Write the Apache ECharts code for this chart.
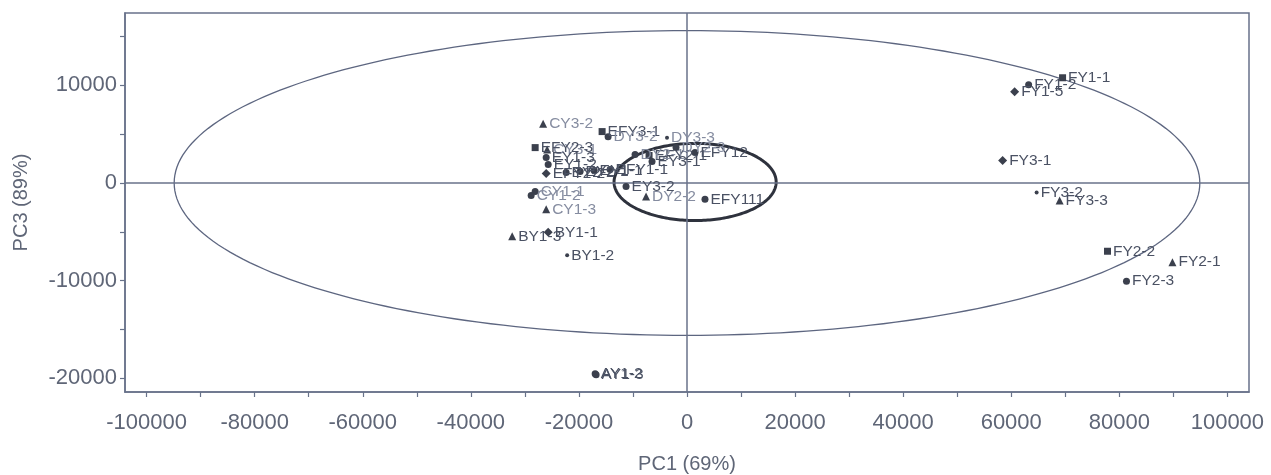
<!DOCTYPE html>
<html>
<head>
<meta charset="utf-8">
<script src="https://cdn.jsdelivr.net/npm/echarts@6/dist/echarts.min.js"></script>
<style>
html,body{margin:0;padding:0;background:#fff;}
#chart{width:1271px;height:475px;}
</style>
</head>
<body>
<div id="chart"></div>
<script>
// ---------- data ----------
const xTickValues = [-100000,-90000,-80000,-70000,-60000,-50000,-40000,-30000,-20000,-10000,0,10000,20000,30000,40000,50000,60000,70000,80000,90000,100000];
const xLabelValues = [-100000,-80000,-60000,-40000,-20000,0,20000,40000,60000,80000,100000];
const yTickValues = [-20000,-15000,-10000,-5000,0,5000,10000,15000];
const yLabelValues = [-20000,-10000,0,10000];

// triangles
const triNames = ['CY3-2','CY3-1','CY1-3','BY1-3','DY2-2','FY2-1','FY3-3'];
const triPC1   = [-26620,-25880,-26060,-32350,-7580,89830,68950];
const triPC3   = [6070,3420,-2700,-5460,-1380,-8110,-1790];

// squares
const sqNames = ['EFY3-1','EFY2-3','EFY2-1','FY1-1','FY2-2'];
const sqPC1   = [-15710,-28100,-7020,69500,77820];
const sqPC3   = [5260,3620,2810,10770,-6990];

// diamonds
const diaNames = ['FY1-5','FY3-1','EFY2-2','BY1-1'];
const diaPC1   = [60630,58410,-26060,-25690];
const diaPC3   = [9340,2300,970,-5050];

// circles
const cirNames = ['FY1-2','FY2-3','AY1-2','AY1-3','EY3-2','EFY111','EFY12','DY3-2','DY2-1','DY2-3','EY3-1','EY1-3','EY1-2','EY2-2','EY2-1','EY1-1','EFY1-1','CY1-1','CY1-2'];
const cirPC1   = [63220,81330,-17000,-16820,-11280,3330,1480,-14600,-9610,-2030,-6470,-26060,-25690,-22370,-19780,-17190,-14230,-28100,-28840];
const cirPC3   = [10050,-10050,-19540,-19640,-360,-1680,3110,4740,2910,3620,2190,2600,1890,1070,1170,1280,1380,-870,-1280];

// asterisks
const starNames = ['DY3-3','FY3-2','BY1-2'];
const starPC1   = [-3700,64700,-22180];
const starPC3   = [4640,-970,-7400];

// confidence ellipses: [centerPC1, centerPC3, semiAxisPC1, semiAxisPC3]
const bigEllipse = [0, 0, 94900, 15600];
const smallEllipse = [1500, 100, 15000, 3950];

// ---------- styles ----------
const AXIS = '#68728a';
const MARK = '#3b404d';
const LABEL = '#4a5163';
const LIGHT = '#858ca0';
const FONT = '"Liberation Sans", Arial, sans-serif';
const lightSet = new Set(['CY3-2','CY3-1','CY1-3','CY1-1','CY1-2','DY3-3','DY3-2','DY2-2','DY2-1','DY2-3']);

function pts(names, xs, ys) {
  return names.map((n, i) => {
    const item = { name: n, value: [xs[i], ys[i]] };
    if (lightSet.has(n)) item.label = { color: LIGHT };
    return item;
  });
}

function scatter(name, symbol, size, names, xs, ys) {
  return {
    name, type: 'scatter', symbol, symbolSize: size,
    itemStyle: { color: MARK, opacity: 1 },
    label: {
      show: true, position: 'right', distance: 2,
      formatter: p => p.name, color: LABEL,
      fontSize: 15.5, fontFamily: FONT
    },
    labelLayout: { hideOverlap: false },
    emphasis: { disabled: true },
    data: pts(names, xs, ys),
    z: 5
  };
}

function ellipseSeries(e, color, width) {
  return {
    type: 'custom',
    silent: true,
    data: [e],
    renderItem: function (params, api) {
      const cx = api.value(0), cy = api.value(1), a = api.value(2), b = api.value(3);
      const points = [];
      const N = 240;
      for (let k = 0; k <= N; k++) {
        const t = (k / N) * Math.PI * 2;
        points.push(api.coord([cx + a * Math.cos(t), cy + b * Math.sin(t)]));
      }
      return {
        type: 'polyline',
        shape: { points },
        style: { stroke: color, lineWidth: width, fill: null }
      };
    },
    z: 3
  };
}

const chart = echarts.init(document.getElementById('chart'), null, { renderer: 'canvas' });

chart.setOption({
  backgroundColor: '#ffffff',
  animation: false,
  grid: {
    left: 125, right: 22, top: 13, bottom: 83,
    outerBoundsMode: 'none', containLabel: false,
    show: true, borderColor: AXIS, borderWidth: 1.5, backgroundColor: '#fff'
  },
  xAxis: {
    type: 'value', min: -104000, max: 104000,
    name: 'PC1 (69%)', nameLocation: 'middle', nameGap: 62,
    nameTextStyle: { fontSize: 20, color: '#5f6677', fontFamily: FONT },
    axisLine: { show: true, onZero: false, lineStyle: { color: AXIS, width: 1.5 } },
    axisTick: { show: true, length: 5, customValues: xTickValues, lineStyle: { color: AXIS, width: 1.2 } },
    axisLabel: { customValues: xLabelValues, formatter: v => String(v), fontSize: 22, color: '#5f6677', fontFamily: FONT, margin: 20 },
    splitLine: { show: false }
  },
  yAxis: {
    type: 'value', min: -21400, max: 17400,
    name: 'PC3 (89%)', nameLocation: 'middle', nameGap: 94,
    nameTextStyle: { fontSize: 20, color: '#5f6677', fontFamily: FONT },
    axisLine: { show: true, onZero: false, lineStyle: { color: AXIS, width: 1.5 } },
    axisTick: { show: true, length: 5, customValues: yTickValues, lineStyle: { color: AXIS, width: 1.2 } },
    axisLabel: { customValues: yLabelValues, formatter: v => String(v), fontSize: 22, color: '#5f6677', fontFamily: FONT, margin: 8 },
    splitLine: { show: false }
  },
  series: [
    {
      type: 'line', data: [], silent: true,
      markLine: {
        silent: true, symbol: 'none', label: { show: false },
        lineStyle: { color: AXIS, width: 1.5, type: 'solid' },
        data: [{ xAxis: 0 }, { yAxis: 0 }]
      },
      z: 2
    },
    ellipseSeries(bigEllipse, '#5d6680', 1.3),
    ellipseSeries(smallEllipse, '#2e323d', 3),
    scatter('tri', 'triangle', 8, triNames, triPC1, triPC3),
    scatter('sq', 'rect', 7, sqNames, sqPC1, sqPC3),
    scatter('dia', 'diamond', 9, diaNames, diaPC1, diaPC3),
    scatter('cir', 'circle', 7, cirNames, cirPC1, cirPC3),
    scatter('star', 'circle', 4, starNames, starPC1, starPC3)
  ]
});
</script>
</body>
</html>
